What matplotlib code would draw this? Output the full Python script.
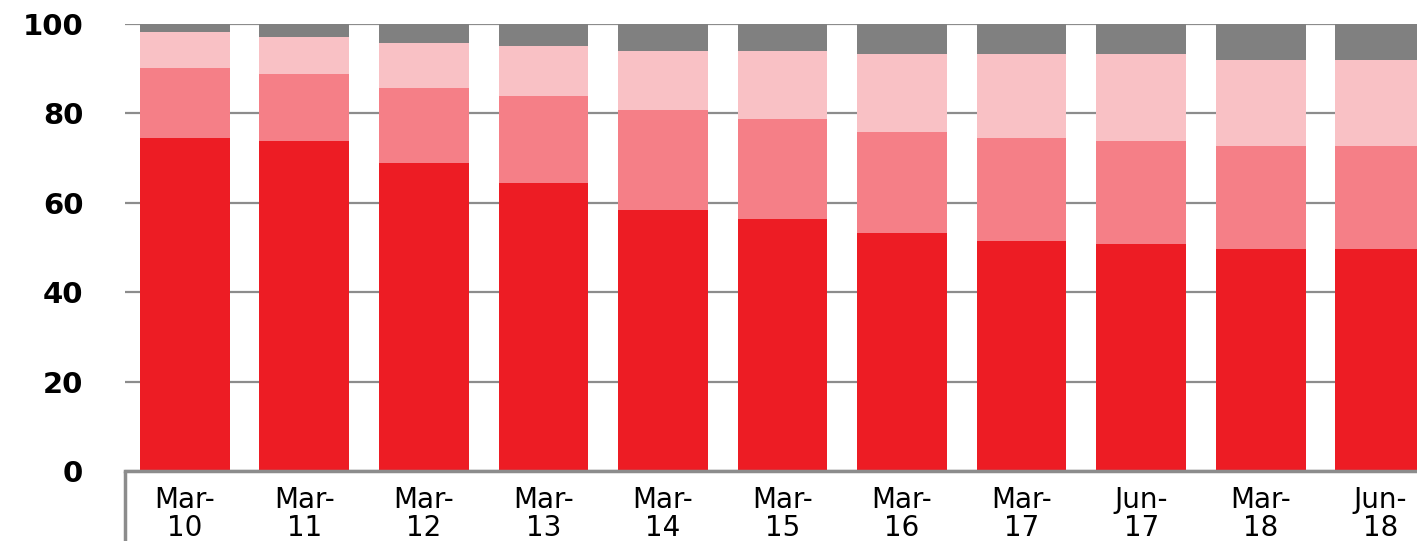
import numpy as np
import matplotlib
matplotlib.use("Agg")
from matplotlib import pyplot as plt

# values (percent share, stacked to 100)
categories = ["Mar-\n10", "Mar-\n11", "Mar-\n12", "Mar-\n13", "Mar-\n14", "Mar-\n15",
              "Mar-\n16", "Mar-\n17", "Jun-\n17", "Mar-\n18", "Jun-\n18"]
seg_red = [74.5, 73.8, 68.9, 64.4, 58.4, 56.4, 53.2, 51.5, 50.8, 49.7, 49.7]
seg_salmon = [15.7, 15.0, 16.8, 19.5, 22.4, 22.3, 22.6, 23.0, 23.0, 23.0, 23.0]
seg_pink = [8.0, 8.3, 10.0, 11.2, 13.2, 15.3, 17.5, 18.8, 19.5, 19.2, 19.2]
seg_gray = [1.8, 2.9, 4.3, 4.9, 6.0, 6.0, 6.7, 6.7, 6.7, 8.1, 8.1]
yticks = [0, 20, 40, 60, 80, 100]

colors = ["#ED1C24", "#F57F87", "#F9C1C5", "#808080"]

plt.rcParams["font.family"] = ["DejaVu Sans"]

fig = plt.figure(figsize=(14.17, 5.41), dpi=100)
# axes runs past the right edge, as in the reference (last bar is cut off)
ax = fig.add_axes([125 / 1417, 70 / 541, 1315 / 1417, 447 / 541])

x = np.arange(len(categories))
bottom = np.zeros(len(categories))
for seg, col in zip([seg_red, seg_salmon, seg_pink, seg_gray], colors):
    ax.bar(x, seg, width=0.75, bottom=bottom, color=col, zorder=3)
    bottom += np.array(seg)

ax.set_xlim(-0.5, len(categories) - 0.5)
ax.set_ylim(0, 100)
ax.set_yticks(yticks)
ax.set_yticklabels([str(t) for t in yticks], fontsize=21, fontweight="bold")
ax.yaxis.grid(True, color="#8c8c8c", linewidth=1.6, zorder=0)
ax.set_axisbelow(True)
ax.tick_params(axis="y", length=0, pad=30)

ax.set_xticks(x)
ax.set_xticklabels(categories, fontsize=20, linespacing=1.0)
ax.tick_params(axis="x", length=0, pad=11)

for side in ["top", "right", "left"]:
    ax.spines[side].set_visible(False)
ax.spines["bottom"].set_color("#8c8c8c")
ax.spines["bottom"].set_linewidth(2.5)
ax.spines["bottom"].set_zorder(4)

# the gray stub under the category axis at its left end
ax.vlines(-0.5, -20, 0, color="#8c8c8c", linewidth=2.5, clip_on=False)

fig.savefig("out.png", dpi=100)
